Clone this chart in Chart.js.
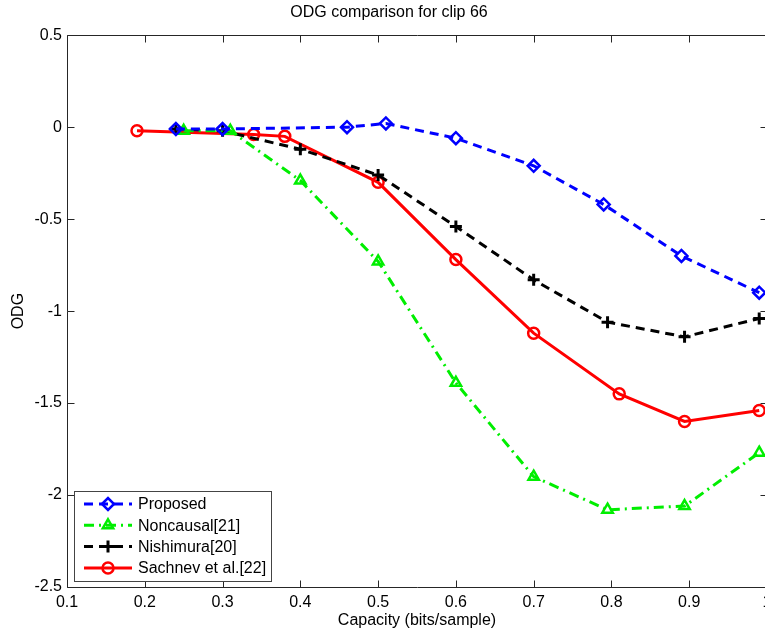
<!DOCTYPE html>
<html>
<head>
<meta charset="utf-8">
<script src="https://cdn.jsdelivr.net/npm/chart.js@4.4.1/dist/chart.umd.min.js"></script>
<style>
html, body { margin: 0; padding: 0; overflow: hidden; background: #fff; }
#wrap { width: 765px; height: 632px; overflow: hidden; position: relative; }
canvas { display: block; }
</style>
</head>
<body>
<div id="wrap"><canvas id="myChart" width="776" height="632"></canvas></div>
<script>
// data
const proposedX = [0.24, 0.30, 0.46, 0.51, 0.60, 0.70, 0.79, 0.89, 0.99];
const proposedY = [-0.01, -0.01, 0.00, 0.02, -0.06, -0.21, -0.42, -0.70, -0.90];

const noncausalX = [0.25, 0.31, 0.40, 0.50, 0.60, 0.70, 0.795, 0.894, 0.99];
const noncausalY = [-0.02, -0.02, -0.29, -0.73, -1.39, -1.90, -2.08, -2.06, -1.77];

const nishimuraX = [0.24, 0.30, 0.40, 0.50, 0.60, 0.70, 0.795, 0.894, 0.99];
const nishimuraY = [-0.01, -0.02, -0.12, -0.26, -0.54, -0.83, -1.06, -1.14, -1.04];

const sachnevX = [0.19, 0.34, 0.38, 0.50, 0.60, 0.70, 0.81, 0.894, 0.99];
const sachnevY = [-0.02, -0.04, -0.05, -0.30, -0.72, -1.12, -1.45, -1.60, -1.54];

const seriesNames = ['Proposed', 'Noncausal[21]', 'Nishimura[20]', 'Sachnev et al.[22]'];

function pts(xs, ys) {
    return xs.map((x, i) => ({ x: x, y: ys[i] }));
}

Chart.defaults.font.family = '"Liberation Sans", Arial, sans-serif';
Chart.defaults.font.size = 16;
Chart.defaults.color = '#000';

// matlab style box + inward ticks
const matlabAxes = {
    id: 'matlabAxes',
    afterDatasetsDraw(chart) {
        const { ctx, chartArea: a, scales } = chart;
        const l = Math.round(a.left) + 0.5, r = Math.round(a.right) + 0.5;
        const t = Math.round(a.top) + 0.5, b = Math.round(a.bottom) + 0.5;
        ctx.save();
        ctx.strokeStyle = '#262626';
        ctx.lineWidth = 1;
        ctx.setLineDash([]);
        ctx.beginPath();
        scales.x.ticks.forEach(tk => {
            const px = Math.round(scales.x.getPixelForValue(tk.value)) + 0.5;
            ctx.moveTo(px, b); ctx.lineTo(px, b - 7);
            ctx.moveTo(px, t); ctx.lineTo(px, t + 7);
        });
        scales.y.ticks.forEach(tk => {
            const py = Math.round(scales.y.getPixelForValue(tk.value)) + 0.5;
            ctx.moveTo(l, py); ctx.lineTo(l + 7, py);
            ctx.moveTo(r, py); ctx.lineTo(r - 7, py);
        });
        // box
        ctx.moveTo(l, t); ctx.lineTo(r, t); ctx.lineTo(r, b); ctx.lineTo(l, b); ctx.closePath();
        ctx.stroke();
        ctx.restore();
    }
};

// legend box inside the plot, bottom left
const boxLegend = {
    id: 'boxLegend',
    afterDraw(chart) {
        const ctx = chart.ctx;
        const left = 74, top = 491, w = 197, h = 90;
        ctx.save();
        ctx.fillStyle = '#fff';
        ctx.fillRect(left, top, w, h);
        ctx.strokeStyle = '#444';
        ctx.lineWidth = 1;
        ctx.strokeRect(left + 0.5, top + 0.5, w, h);
        chart.data.datasets.forEach((ds, i) => {
            const y = 504 + i * 21.3;
            ctx.strokeStyle = ds.borderColor;
            ctx.lineWidth = ds.borderWidth;
            ctx.setLineDash(ds.borderDash || []);
            ctx.beginPath();
            ctx.moveTo(84, y);
            ctx.lineTo(132, y);
            ctx.stroke();
            ctx.setLineDash([]);
            ctx.lineWidth = ds.pointBorderWidth;
            ctx.fillStyle = ds.pointBackgroundColor;
            Chart.helpers.drawPoint(ctx, {
                pointStyle: ds.pointStyle,
                radius: ds.pointRadius,
                borderWidth: ds.pointBorderWidth,
                rotation: 0
            }, 108, y);
            ctx.fillStyle = '#000';
            ctx.font = '16px "Liberation Sans", Arial, sans-serif';
            ctx.textBaseline = 'middle';
            ctx.fillText(ds.label, 138, y + 1);
        });
        ctx.restore();
    }
};

new Chart(document.getElementById('myChart'), {
    type: 'line',
    data: {
        datasets: [
            {
                label: seriesNames[0],
                data: pts(proposedX, proposedY),
                borderColor: '#0000ff',
                borderWidth: 3,
                borderDash: [9, 6],
                pointStyle: 'rectRot',
                pointRadius: 6,
                pointBorderWidth: 2.5,
                pointBorderColor: '#0000ff',
                pointBackgroundColor: 'rgba(255,255,255,0)'
            },
            {
                label: seriesNames[1],
                data: pts(noncausalX, noncausalY),
                borderColor: '#00ee00',
                borderWidth: 3,
                borderDash: [10, 5, 2, 5],
                pointStyle: 'triangle',
                pointRadius: 6,
                pointBorderWidth: 2.5,
                pointBorderColor: '#00ee00',
                pointBackgroundColor: 'rgba(255,255,255,0)'
            },
            {
                label: seriesNames[2],
                data: pts(nishimuraX, nishimuraY),
                borderColor: '#000000',
                borderWidth: 3,
                borderDash: [9, 6],
                pointStyle: 'cross',
                pointRadius: 6,
                pointBorderWidth: 3,
                pointBorderColor: '#000000',
                pointBackgroundColor: 'rgba(255,255,255,0)'
            },
            {
                label: seriesNames[3],
                data: pts(sachnevX, sachnevY),
                borderColor: '#ff0000',
                borderWidth: 3,
                pointStyle: 'circle',
                pointRadius: 5.5,
                pointBorderWidth: 2.5,
                pointBorderColor: '#ff0000',
                pointBackgroundColor: 'rgba(255,255,255,0)'
            }
        ]
    },
    options: {
        responsive: false,
        animation: false,
        layout: { padding: { left: 0, right: -2, top: 0, bottom: 0 } },
        plugins: {
            legend: { display: false },
            tooltip: { enabled: false },
            title: {
                display: true,
                text: 'ODG comparison for clip 66',
                font: { size: 16, weight: 'normal' },
                padding: { top: 3, bottom: 13 }
            }
        },
        scales: {
            x: {
                type: 'linear',
                min: 0.1,
                max: 1,
                grid: { display: false, drawTicks: false },
                border: { display: false },
                ticks: {
                    stepSize: 0.1,
                    padding: 6,
                    maxRotation: 0,
                    autoSkip: false,
                    callback: v => String(+v.toFixed(1))
                },
                title: { display: true, text: 'Capacity (bits/sample)', padding: { top: 0, bottom: 2 } },
                afterFit: s => { s.height = 45; s.paddingRight = 0; s.paddingLeft = 0; }
            },
            y: {
                min: -2.5,
                max: 0.5,
                grid: { display: false, drawTicks: false },
                border: { display: false },
                ticks: {
                    stepSize: 0.5,
                    padding: 5,
                    callback: v => String(+v.toFixed(1))
                },
                title: { display: true, text: 'ODG', padding: { top: 9, bottom: 0 } },
                afterFit: s => { s.width = 67; }
            }
        }
    },
    plugins: [matlabAxes, boxLegend]
});
</script>
</body>
</html>
